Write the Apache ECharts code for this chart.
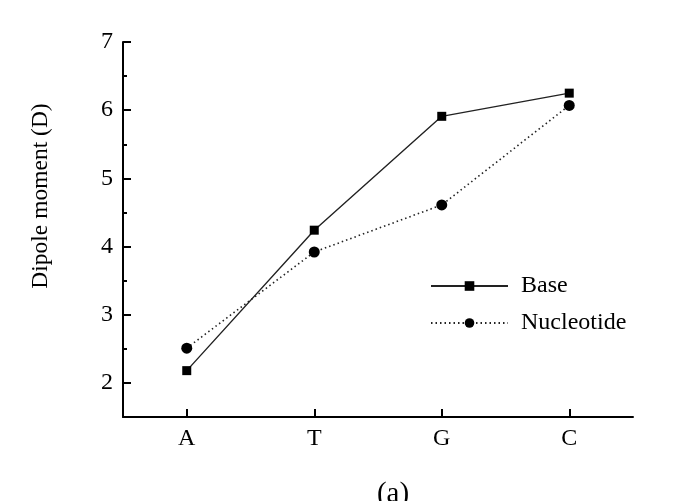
<!DOCTYPE html>
<html>
<head>
<meta charset="utf-8">
<script src="https://cdn.jsdelivr.net/npm/echarts@6/dist/echarts.min.js"></script>
<style>
  html, body { margin: 0; padding: 0; background: #fff; }
  #main { width: 680px; height: 501px; }
</style>
</head>
<body>
<div id="main"></div>
<script>
// 数据
const categories = ["A", "T", "G", "C"];
const baseValues = [2.18, 4.24, 5.91, 6.25];
const nucleotideValues = [2.51, 3.92, 4.61, 6.07];
const yTicks = [2, 3, 4, 5, 6, 7];

const serif = "Liberation Serif";
const yMin = 1.5, yMax = 7;
const black = { color: "#000", width: 2 };

// 只画刻度的辅助轴（向内偏移，模拟朝内的刻度）
function tickOnlyY(offset, len, values) {
	return {
		type: "value",
		position: "left",
		offset: offset,
		min: yMin,
		max: yMax,
		interval: 0.5,
		splitLine: { show: false },
		axisLine: { show: false },
		axisLabel: { show: false },
		axisTick: { show: true, length: len, lineStyle: black, customValues: values }
	};
}

var chart = echarts.init(document.getElementById("main"));
chart.setOption({
	backgroundColor: "#fff",
	animation: false,
	title: {
		text: "(a)",
		left: 388,
		top: 475,
		textAlign: "center",
		textStyle: { fontFamily: serif, fontSize: 29, fontWeight: "normal", color: "#000" }
	},
	// 纵轴标题
	graphic: [{
		type: "text",
		x: 41,
		y: 196,
		rotation: Math.PI / 2,
		style: {
			text: "Dipole moment (D)",
			fontFamily: serif,
			fontSize: 23.5,
			fill: "#000",
			align: "center",
			verticalAlign: "middle"
		}
	}],
	grid: { left: 123, right: 47, top: 42, bottom: 84 },
	legend: {
		orient: "vertical",
		left: 425,
		top: 269,
		itemWidth: 77,
		itemHeight: 12,
		itemGap: 13,
		textStyle: { fontFamily: serif, fontSize: 24, color: "#000", padding: [0, 0, 0, 8] },
		data: ["Base", "Nucleotide"]
	},
	xAxis: [
		{
			type: "category",
			data: categories,
			axisLine: { lineStyle: black },
			axisTick: { show: false },
			axisLabel: { fontFamily: serif, fontSize: 24, color: "#000", margin: 10 }
		},
		{
			type: "category",
			position: "bottom",
			offset: -8,
			data: categories,
			axisLine: { show: false },
			axisTick: { show: true, length: 8, alignWithLabel: true, lineStyle: black },
			axisLabel: { show: false }
		}
	],
	yAxis: [
		{
			type: "value",
			min: yMin,
			max: yMax,
			interval: 0.5,
			splitLine: { show: false },
			axisLine: { show: true, lineStyle: black },
			axisTick: { show: false },
			axisLabel: {
				fontFamily: serif,
				fontSize: 24,
				color: "#000",
				margin: 10,
				customValues: yTicks
			}
		},
		tickOnlyY(-8, 8, yTicks),
		tickOnlyY(-4, 4, undefined)
	],
	series: [
		{
			name: "Base",
			type: "line",
			data: baseValues,
			symbol: "rect",
			symbolSize: 9,
			itemStyle: { color: "#000" },
			lineStyle: { color: "#222", width: 1.4, type: "solid" }
		},
		{
			name: "Nucleotide",
			type: "line",
			data: nucleotideValues,
			symbol: "circle",
			symbolSize: 11,
			itemStyle: { color: "#000" },
			lineStyle: { color: "#222", width: 1.6, type: [1.5, 3] }
		}
	]
});
</script>
</body>
</html>
